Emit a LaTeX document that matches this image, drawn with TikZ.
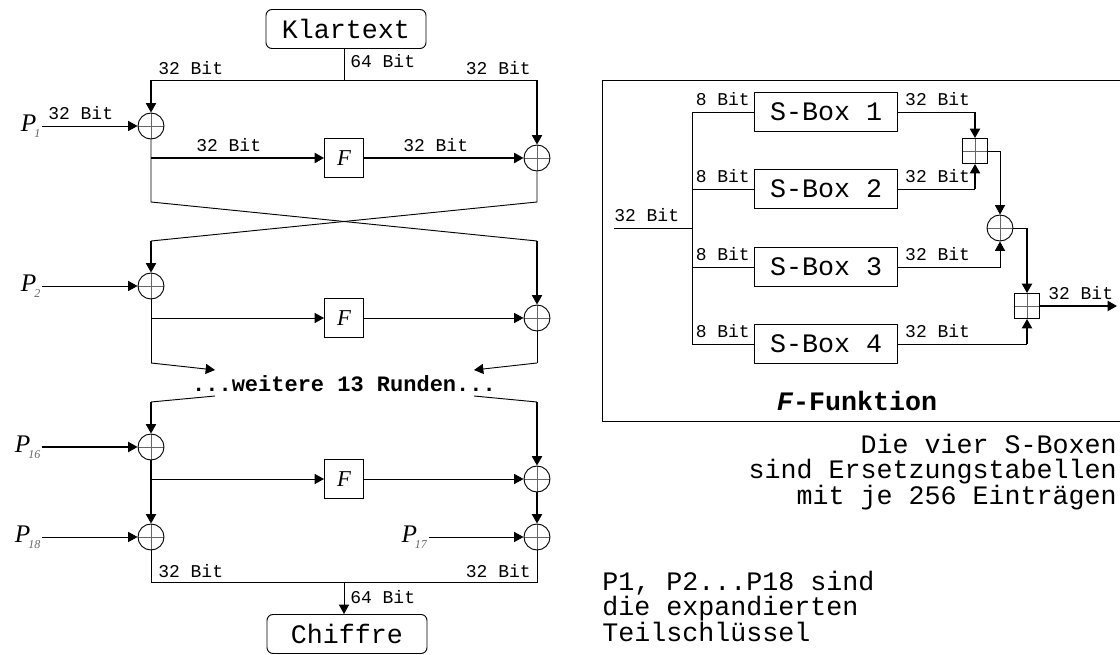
\documentclass[tikz,border=0pt]{standalone}
\usepackage{fontspec}
\setmainfont{Liberation Serif}
\setmonofont{Liberation Mono}
\usetikzlibrary{arrows.meta,positioning}

\tikzset{
  wire/.style={line width=0.7pt},
  fat/.style={line width=1.4pt},
  arr/.style={-{Triangle[length=7pt,width=7.5pt]}},
  lbl/.style={font=\ttfamily\fontsize{13.5}{14}\selectfont, inner sep=0pt},
  note/.style={font=\ttfamily\fontsize{20}{18.5}\selectfont, inner sep=0pt},
  plusmark/.style={path picture={\draw[black!60, line width=0.5pt]
      (path picture bounding box.north) -- (path picture bounding box.south)
      (path picture bounding box.west) -- (path picture bounding box.east);}},
  xor/.style={circle, draw, line width=0.7pt, minimum size=19.5pt, inner sep=0pt, plusmark},
  addbox/.style={rectangle, draw, line width=0.7pt, minimum size=18.75pt, inner sep=0pt, plusmark},
  fbox/.style={draw, line width=0.7pt, minimum size=29.25pt, inner sep=0pt, font=\fontsize{17}{17}\selectfont\itshape},
  sbox/.style={draw, line width=0.7pt, minimum width=107.25pt, minimum height=29.25pt, inner sep=0pt, font=\ttfamily\fontsize{20}{20}\selectfont},
  endbox/.style={draw, line width=0.7pt, rounded corners=4.5pt, minimum width=120pt, minimum height=29.25pt, inner sep=0pt, font=\ttfamily\fontsize{20}{20}\selectfont},
  pkey/.style={inner sep=1pt, anchor=east, font=\fontsize{19}{19}\selectfont},
}
\newcommand\pidx[2]{\textit{#1}\kern-1.5pt\raisebox{-0.55ex}{\fontsize{9}{9}\selectfont\color{black!60}\textit{#2}}}

\begin{document}
\begin{tikzpicture}[x=0.75pt, y=-0.75pt]
\useasboundingbox (0,0) rectangle (1120,655);
\clip (0,0) rectangle (1120,655);
% round 1
\node[endbox] (klar) at (346,29) {Klartext};
\coordinate (tl) at (151,80); \coordinate (tm) at (344,80); \coordinate (tr) at (537,80);
\node[xor] (x1l) at (151,126) {};
\node[xor] (x1r) at (537,158) {};
\node[fbox] (f1) at (344,158) {F};
\node[pkey] (p1) at (42,126) {\pidx{P}{1}};
\coordinate (b1) at (151,158);
\coordinate (c1l) at (151,202); \coordinate (c1r) at (537,202);
\coordinate (c2l) at (151,241); \coordinate (c2r) at (537,241);
\draw[wire] (klar.south -| tm) -- (tm);
\draw[wire] (tl) -- (tr);
\draw[fat, arr] (tl) -- (x1l.north);
\draw[fat, arr] (tr) -- (x1r.north);
\draw[wire, arr] (p1.east) -- (x1l.west);
\draw[wire] (x1l.south) -- (c1l) -- (c2r);
\draw[wire] (x1r.south) -- (c1r) -- (c2l);
\draw[fat, arr] (b1) -- (f1.west);
\draw[fat, arr] (f1.east) -- (x1r.west);
\node[lbl, anchor=base west] (w1a) at (158,75) {32 Bit};
\node[lbl, anchor=base east] (w1b) at (531,75) {32 Bit};
\node[lbl, anchor=base west] (w1c) at (350,68) {64 Bit};
\node[lbl, anchor=base west] (w1d) at (48,120) {32 Bit};
\node[lbl, anchor=base west] (w1e) at (196,152) {32 Bit};
\node[lbl, anchor=base west] (w1f) at (403,152) {32 Bit};
% round 2
\node[xor] (x2l) at (151,286) {};
\node[xor] (x2r) at (537,318) {};
\node[fbox] (f2) at (344,318) {F};
\node[pkey] (p2) at (42,286) {\pidx{P}{2}};
\coordinate (b2) at (151,318);
\coordinate (c3l) at (151,363); \coordinate (c3r) at (537,363);
\draw[fat, arr] (c2l) -- (x2l.north);
\draw[fat, arr] (c2r) -- (x2r.north);
\draw[wire, arr] (p2.east) -- (x2l.west);
\draw[wire, arr] (b2) -- (f2.west);
\draw[wire, arr] (f2.east) -- (x2r.west);
\draw[wire] (x2l.south) -- (c3l);
\draw[wire] (x2r.south) -- (c3r);
% the skipped rounds
\node[font=\ttfamily\bfseries\fontsize{16.5}{17}\selectfont, inner sep=0pt] (more) at (344,384) {...weitere 13 Runden...};
\coordinate (m1) at (215,370); \coordinate (m2) at (474,370);
\coordinate (m3) at (215,396); \coordinate (m4) at (474,396);
\coordinate (c4l) at (151,402); \coordinate (c4r) at (537,402);
\draw[wire, arr] (c3l) -- (m1);
\draw[wire, arr] (c3r) -- (m2);
\draw[wire] (m3) -- (c4l);
\draw[wire] (m4) -- (c4r);
% round 16
\node[xor] (x16) at (151,447) {};
\node[xor] (x16r) at (537,479) {};
\node[fbox] (f3) at (344,479) {F};
\node[pkey] (p16) at (42,447) {\pidx{P}{16}};
\coordinate (b3) at (151,479);
\draw[fat, arr] (c4l) -- (x16.north);
\draw[fat, arr] (c4r) -- (x16r.north);
\draw[fat, arr] (p16.east) -- (x16.west);
\draw[wire, arr] (b3) -- (f3.west);
\draw[wire, arr] (f3.east) -- (x16r.west);
% output whitening
\node[xor] (x18) at (151,537) {};
\node[xor] (x17) at (537,537) {};
\node[pkey] (p18) at (42,537) {\pidx{P}{18}};
\node[pkey] (p17) at (429,537) {\pidx{P}{17}};
\draw[fat, arr] (x16.south) -- (x18.north);
\draw[fat, arr] (x16r.south) -- (x17.north);
\draw[wire, arr] (p18.east) -- (x18.west);
\draw[wire, arr] (p17.east) -- (x17.west);
\coordinate (d1) at (151,582); \coordinate (d2) at (344,582); \coordinate (d3) at (537,582);
\node[endbox] (chif) at (347,634) {Chiffre};
\draw[wire] (x18.south) -- (d1) -- (d3) -- (x17.south);
\draw[wire, arr] (d2) -- (d2 |- chif.north);
\node[lbl, anchor=base west] (w9a) at (158,577) {32 Bit};
\node[lbl, anchor=base east] (w9b) at (531,577) {32 Bit};
\node[lbl, anchor=base west] (w9c) at (350,603) {64 Bit};
% F function
\draw[wire] (602,80) rectangle (1140,421);
\node[sbox] (s1) at (826,112) {S-Box 1};
\node[sbox] (s2) at (826,189) {S-Box 2};
\node[sbox] (s3) at (826,267) {S-Box 3};
\node[sbox] (s4) at (826,344) {S-Box 4};
\coordinate (sp0) at (614,228); \coordinate (sp) at (692,228);
\coordinate (sp1) at (692,112); \coordinate (sp4) at (692,344);
\draw[wire] (sp0) -- (sp);
\draw[wire] (sp1) -- (sp4);
\node[lbl, anchor=base west] (g0) at (614,222) {32 Bit};
\foreach \i in {1,...,4} {
  \draw[wire] (s\i.west -| sp1) -- (s\i.west);
  \path (s\i.west) ++(-4,-6) node[lbl, anchor=base east] (e\i) {8 Bit};
  \path (s\i.east) ++(7,-6) node[lbl, anchor=base west] (o\i) {32 Bit};
}
\node[addbox] (q1) at (975,151) {};
\node[xor] (q2) at (1000,228) {};
\node[addbox] (q3) at (1027,306) {};
\draw[wire] (s1.east) -- (s1.east -| q1.north);
\draw[fat, arr] (s1.east -| q1.north) -- (q1.north);
\draw[wire] (s2.east) -- (s2.east -| q1.south);
\draw[fat, arr] (s2.east -| q1.south) -- (q1.south);
\draw[wire, arr] (q1.east) -| (q2.north);
\draw[wire, arr] (s3.east) -| (q2.south);
\draw[wire] (q2.east) -- (q2.east -| q3.north);
\draw[fat, arr] (q2.east -| q3.north) -- (q3.north);
\draw[wire] (s4.east) -- (s4.east -| q3.south);
\draw[fat, arr] (s4.east -| q3.south) -- (q3.south);
\coordinate (out) at (1117,306);
\draw[fat, arr] (q3.east) -- (out);
\node[lbl, anchor=base west] (g5) at (1048,300) {32 Bit};
\node[font=\ttfamily\bfseries\fontsize{20}{20}\selectfont, inner sep=0pt] (ftit) at (857,401) {\textit{F}-Funktion};
% notes
\node[note, anchor=north east, align=right] (n1) at (1117,434) {Die vier S-Boxen\\sind Ersetzungstabellen\\mit je 256 Einträgen};
\node[note, anchor=north west, align=left] (n2) at (602,571) {P1, P2...P18 sind\\die expandierten\\Teilschlüssel};
\end{tikzpicture}
\end{document}
